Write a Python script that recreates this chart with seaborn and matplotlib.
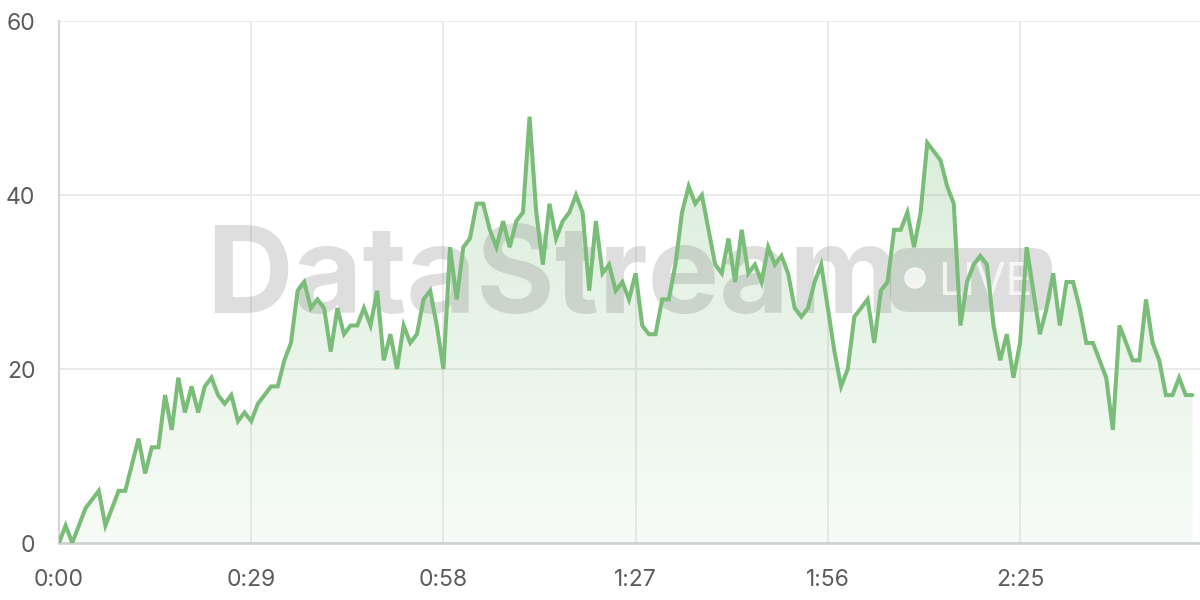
import matplotlib
matplotlib.use("Agg")
import matplotlib.pyplot as plt
from matplotlib.patches import FancyBboxPatch, Circle, Polygon
from matplotlib.transforms import IdentityTransform
import seaborn as sns
import pandas as pd
import numpy as np

# values, one per second
values = [0, 2, 0, 2, 4, 5, 6, 2, 4, 6, 6, 9, 12, 8, 11, 11, 17, 13, 19, 15,
          18, 15, 18, 19, 17, 16, 17, 14, 15, 14, 16, 17, 18, 18, 21, 23, 29, 30, 27, 28,
          27, 22, 27, 24, 25, 25, 27, 25, 29, 21, 24, 20, 25, 23, 24, 28, 29, 25, 20, 34,
          28, 34, 35, 39, 39, 36, 34, 37, 34, 37, 38, 49, 38, 32, 39, 35, 37, 38, 40, 38,
          29, 37, 31, 32, 29, 30, 28, 31, 25, 24, 24, 28, 28, 32, 38, 41, 39, 40, 36, 32,
          31, 35, 30, 36, 31, 32, 30, 34, 32, 33, 31, 27, 26, 27, 30, 32, 27, 22, 18, 20,
          26, 27, 28, 23, 29, 30, 36, 36, 38, 34, 38, 46, 45, 44, 41, 39, 25, 30, 32, 33,
          32, 25, 21, 24, 19, 23, 34, 29, 24, 27, 31, 25, 30, 30, 27, 23, 23, 21, 19, 13,
          25, 23, 21, 21, 28, 23, 21, 17, 17, 19, 17, 17]
seconds = np.arange(len(values))

x_ticks = [0, 29, 58, 87, 116, 145]
x_labels = ["0:00", "0:29", "0:58", "1:27", "1:56", "2:25"]
y_ticks = [0, 20, 40, 60]

df = pd.DataFrame({"t": seconds, "v": values})

sns.set_theme(style="white")
plt.rcParams["font.family"] = ["Inter", "DejaVu Sans"]

line_color = "#79bd78"
grid_color = "#ebebeb"

fig = plt.figure(figsize=(12, 6), dpi=100)
ax = fig.add_axes([59 / 1200, 57 / 600, 1141 / 1200, 522 / 600])

# gradient fill under the line
grad = np.linspace(0.06, 0.30, 256).reshape(-1, 1)
rgba = np.zeros((256, 1, 4))
rgba[..., :3] = matplotlib.colors.to_rgb(line_color)
rgba[..., 3] = grad[:, 0:1]
img = ax.imshow(rgba, extent=[0, seconds[-1], 0, 52], origin="lower",
                aspect="auto", zorder=1, interpolation="bilinear")
poly = Polygon(np.column_stack([np.r_[seconds, seconds[-1], 0],
                                np.r_[values, 0, 0]]),
               closed=True, facecolor="none", edgecolor="none")
ax.add_patch(poly)
img.set_clip_path(poly)

sns.lineplot(data=df, x="t", y="v", ax=ax, color=line_color, linewidth=2.9,
             zorder=4)
ax.lines[-1].set_solid_joinstyle("miter")

# watermark, under the line
wm = "#808080"
ax.text(206, 287, "DataStream", transform=IdentityTransform(), fontsize=86.5,
        fontweight="bold", color=wm, alpha=0.26, ha="left", va="baseline",
        zorder=2, clip_on=False)
badge = FancyBboxPatch((890, 288), 162, 64, boxstyle="round,pad=0,rounding_size=20",
                       transform=IdentityTransform(), facecolor=wm, alpha=0.26,
                       edgecolor="none", zorder=2, clip_on=False)
ax.add_artist(badge)
ax.add_artist(Circle((915, 322), 10, transform=IdentityTransform(),
                     facecolor="white", alpha=0.75, zorder=2.5, clip_on=False))
ax.text(938, 305, "LIVE", transform=IdentityTransform(), fontsize=32,
        color="white", alpha=0.75, ha="left", va="baseline", zorder=2.5,
        clip_on=False)

ax.set_xlim(0, 172.15)
ax.set_ylim(0, 60)
ax.set_xticks(x_ticks)
ax.set_xticklabels(x_labels)
ax.set_yticks(y_ticks)
ax.set_xlabel("")
ax.set_ylabel("")

ax.grid(True, color=grid_color, linewidth=1.4, zorder=0)
ax.set_axisbelow(True)
ax.tick_params(axis="both", length=11, width=1.4, color=grid_color,
               labelsize=16.5, labelcolor="#5c5c5c")
ax.tick_params(axis="x", pad=8)
ax.tick_params(axis="y", pad=6)
sns.despine(ax=ax, top=True, right=True)
ax.spines["left"].set_color("#d6d6d6")
ax.spines["left"].set_linewidth(1.6)
ax.spines["bottom"].set_color("#cfcfcf")
ax.spines["bottom"].set_linewidth(1.8)

fig.savefig("out.png", dpi=100)
